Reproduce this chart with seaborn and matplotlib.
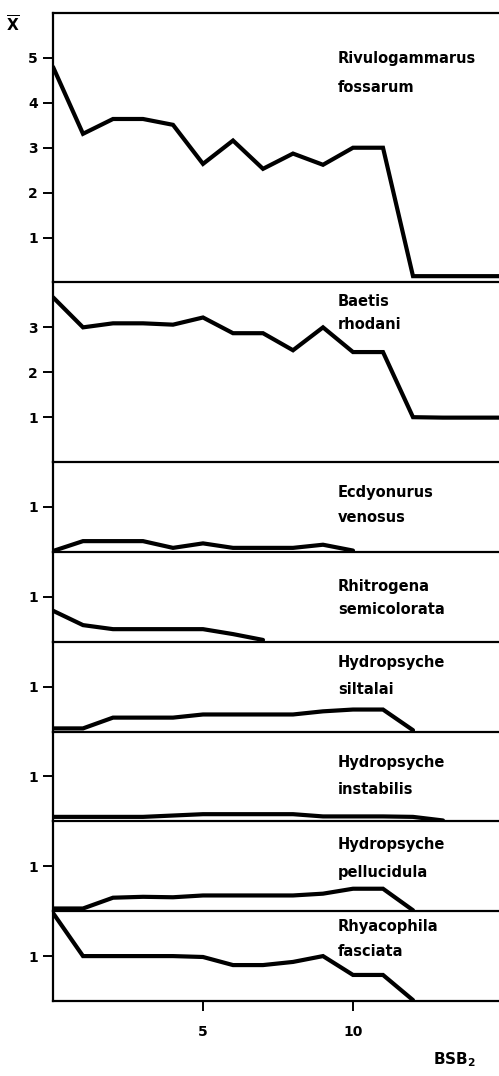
import numpy as np
import seaborn as sns
import matplotlib.pyplot as plt

sns.set_theme()
sns.set_style("white")
plt.rcParams["font.family"] = ["DejaVu Sans"]
plt.rcParams["font.weight"] = "bold"
plt.rcParams["text.color"] = "black"
plt.rcParams["xtick.color"] = "black"
plt.rcParams["ytick.color"] = "black"

# BSB2 classes on the x axis
bsb = np.arange(0, 16)

species = [
    ("Rivulogammarus", "fossarum"),
    ("Baetis", "rhodani"),
    ("Ecdyonurus", "venosus"),
    ("Rhitrogena", "semicolorata"),
    ("Hydropsyche", "siltalai"),
    ("Hydropsyche", "instabilis"),
    ("Hydropsyche", "pellucidula"),
    ("Rhyacophila", "fasciata"),
]

# mean abundance class (x-bar) per BSB2 class
rivulogammarus = [4.8, 3.31, 3.64, 3.64, 3.51, 2.64, 3.16, 2.53, 2.87, 2.62, 3.0, 3.0, 0.14, 0.14, 0.14, 0.14]
baetis = [3.67, 3.0, 3.09, 3.09, 3.06, 3.22, 2.87, 2.87, 2.49, 3.0, 2.45, 2.45, 1.0, 0.99, 0.99, 0.99]
ecdyonurus = [0.02, 0.24, 0.24, 0.24, 0.09, 0.19, 0.09, 0.09, 0.09, 0.16, 0.03]
rhitrogena = [0.69, 0.37, 0.28, 0.28, 0.28, 0.28, 0.17, 0.04]
siltalai = [0.07, 0.07, 0.31, 0.31, 0.31, 0.38, 0.38, 0.38, 0.38, 0.45, 0.49, 0.49, 0.03]
instabilis = [0.1, 0.1, 0.1, 0.1, 0.13, 0.16, 0.16, 0.16, 0.16, 0.11, 0.11, 0.11, 0.1, 0.02]
pellucidula = [0.06, 0.06, 0.3, 0.32, 0.31, 0.35, 0.35, 0.35, 0.35, 0.39, 0.5, 0.5, 0.02]
rhyacophila = [1.96, 1.0, 1.0, 1.0, 1.0, 0.98, 0.8, 0.8, 0.87, 1.0, 0.58, 0.58, 0.02]

series = [rivulogammarus, baetis, ecdyonurus, rhitrogena,
          siltalai, instabilis, pellucidula, rhyacophila]
ymax = [6, 4, 2, 2, 2, 2, 2, 2]
yticks = [[1, 2, 3, 4, 5], [1, 2, 3], [1], [1], [1], [1], [1], [1]]
# pixel rows of the two name lines in each panel
name_rows = [(58, 88), (301, 325), (492, 518), (587, 610),
              (662, 690), (762, 789), (845, 872), (927, 951)]

W, H = 499, 1076
fig, axes = plt.subplots(
    8, 1, figsize=(W / 100, H / 100), dpi=100, sharex=True,
    gridspec_kw={"height_ratios": ymax, "hspace": 0},
)
fig.subplots_adjust(left=53 / W, right=1.0, top=1 - 13 / H, bottom=1 - 1001 / H)

for i, ax in enumerate(axes):
    vals = series[i]
    ax.patch.set_alpha(0)
    sns.lineplot(x=bsb[:len(vals)], y=vals, ax=ax, color="black",
                 linewidth=3.0, solid_joinstyle="miter")
    ax.set_xlim(0, 446 / 30)
    ax.set_ylim(0, ymax[i])
    ax.set_yticks(yticks[i])
    ax.set_yticklabels([str(t) for t in yticks[i]], fontsize=10, fontweight="bold")
    ax.set_ylabel("")
    ax.tick_params(axis="y", direction="out", length=7, width=1.4, left=True,
                   pad=4, colors="black")
    ax.spines["right"].set_visible(False)
    ax.spines["top"].set_visible(i == 0)
    for s in ["left", "bottom", "top"]:
        ax.spines[s].set_color("black")
        ax.spines[s].set_linewidth(1.6)
    for name, row in zip(species[i], name_rows[i]):
        fig.text(338 / W, 1 - row / H, name, fontsize=10.5, fontweight="bold",
                 va="center", ha="left", color="black")

bottom = axes[-1]
bottom.set_xticks([5, 10])
bottom.set_xticklabels(["5", "10"], fontsize=10, fontweight="bold")
bottom.tick_params(axis="x", direction="out", length=7, width=1.4, bottom=True,
                   pad=10, colors="black")
for ax in axes[:-1]:
    ax.tick_params(axis="x", bottom=False, labelbottom=False)

fig.text(433 / W, 1 - 1060 / H, r"BSB$_\mathbf{2}$", fontsize=11,
         fontweight="bold", ha="left", va="center", color="black")
fig.text(13 / W, 1 - 25 / H, r"$\overline{\mathsf{X}}$", fontsize=11,
         ha="center", va="center", color="black")

fig.savefig("out.png", dpi=100, facecolor="white")
